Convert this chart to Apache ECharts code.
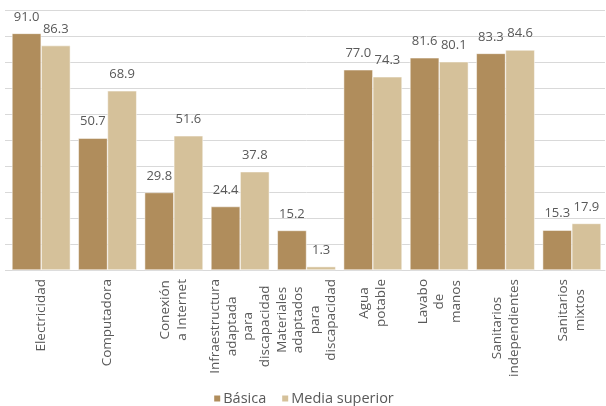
<!DOCTYPE html>
<html><head><meta charset="utf-8">
<script src="https://cdn.jsdelivr.net/npm/echarts@6/dist/echarts.min.js"></script>
<style>html,body{margin:0;padding:0;background:#fff}#c{width:606px;height:406px}</style>
</head><body><div id="c"></div>
<script>
const categories = ["Electricidad", "Computadora", "Conexión\na Internet", "Infraestructura\nadaptada\npara\ndiscapacidad", "Materiales\nadaptados\npara\ndiscapacidad", "Agua\npotable", "Lavabo\nde\nmanos", "Sanitarios\nindependientes", "Sanitarios\nmixtos"];
const basica = [91.0, 50.7, 29.8, 24.4, 15.2, 77.0, 81.6, 83.3, 15.3];
const mediaSuperior = [86.3, 68.9, 51.6, 37.8, 1.3, 74.3, 80.1, 84.6, 17.9];
const seriesNames = ["Básica", "Media superior"];

const font = '"Open Sans", sans-serif';
const chart = echarts.init(document.getElementById('c'));
const labelStyle = {show: true, position: 'top', color: '#595959', fontSize: 13, fontFamily: font, distance: 10, formatter: p => p.value.toFixed(1)};
chart.setOption({
  animation: false,
  textStyle: {fontFamily: font},
  grid: {left: 8, right: 1, top: 10, bottom: 136, containLabel: false},
  legend: {
    bottom: -5, left: 'center', itemWidth: 8, itemHeight: 8, itemGap: 14, icon: 'rect',
    textStyle: {color: '#595959', fontSize: 14.5, fontFamily: font, padding: [0,0,0,-3]},
    data: seriesNames
  },
  xAxis: {
    type: 'category', data: categories,
    axisLine: {lineStyle: {color: '#d9d9d9'}}, axisTick: {show: false},
    axisLabel: {
      rotate: 90, margin: 9, color: '#595959', fontSize: 13.5, fontFamily: font, interval: 0,
      formatter: v => v.split('\n').map(l => '{c|' + l + '}').join('\n'),
      rich: {c: {align: 'center', fontSize: 13.5, fontFamily: font, color: '#595959', lineHeight: 16.5}}
    }
  },
  yAxis: {
    type: 'value', min: 0, max: 100, interval: 10,
    axisLabel: {show: false}, axisLine: {show: false},
    axisTick: {show: true, length: 3, lineStyle: {color: '#d9d9d9'}},
    splitLine: {lineStyle: {color: '#d9d9d9'}}
  },
  series: [
    {name: seriesNames[0], type: 'bar', data: basica, barGap: '0%', barCategoryGap: '12%',
     itemStyle: {color: '#B08D5C', borderColor: '#fff', borderWidth: 0.5}, label: labelStyle},
    {name: seriesNames[1], type: 'bar', data: mediaSuperior,
     itemStyle: {color: '#D5C19A', borderColor: '#fff', borderWidth: 0.5}, label: labelStyle}
  ]
});
</script></body></html>
